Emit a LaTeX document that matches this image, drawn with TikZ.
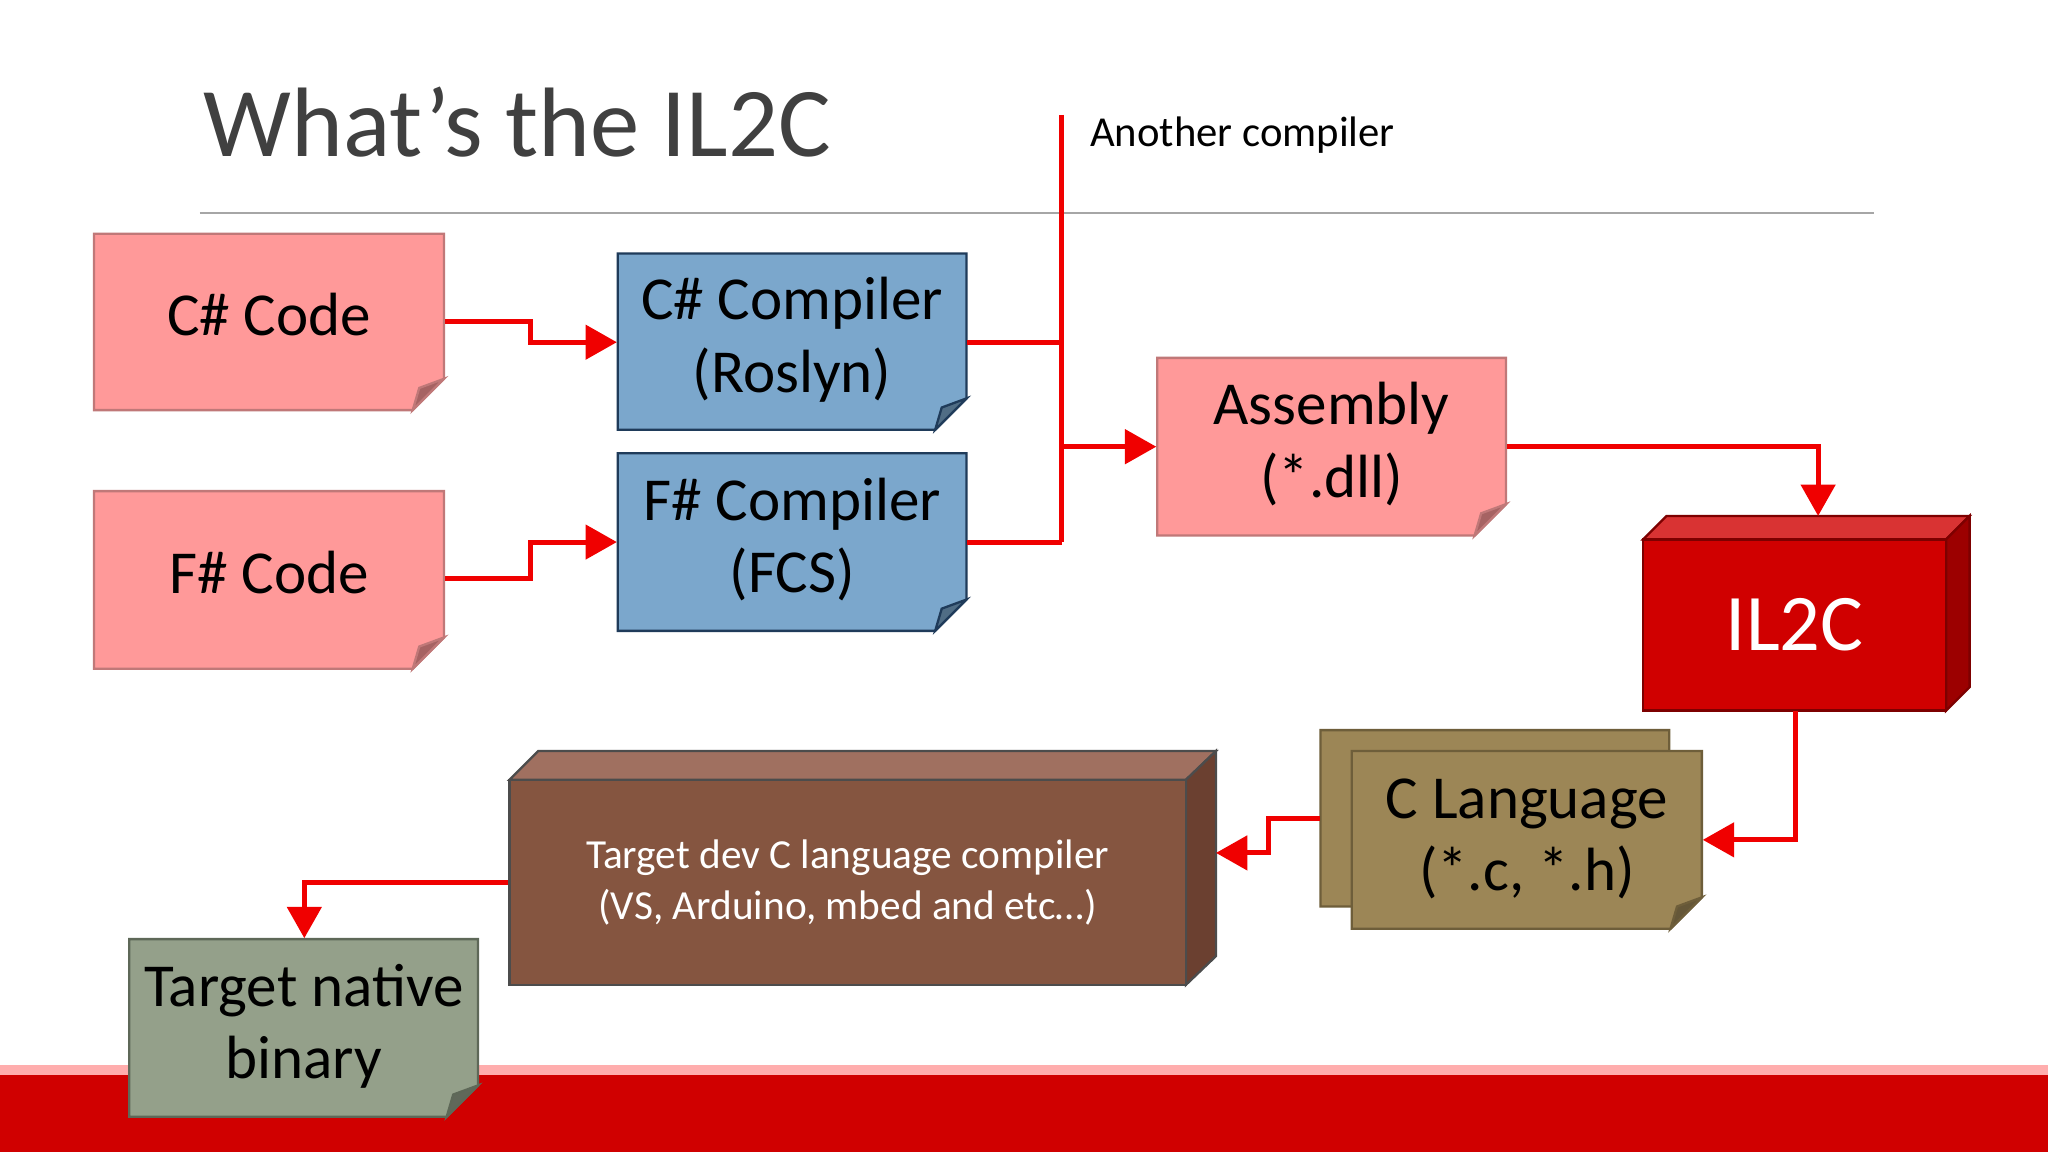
\documentclass[tikz,border=0pt]{standalone}
\usepackage{fontspec}
\setmainfont{Carlito}
\usetikzlibrary{arrows.meta}
\definecolor{redc}{HTML}{D00000}
\definecolor{linec}{HTML}{F00000}
\definecolor{pinkf}{HTML}{FF9999}
\definecolor{pinkb}{HTML}{C07878}
\definecolor{bluef}{HTML}{7BA7CC}
\definecolor{blueb}{HTML}{1F3B5A}
\definecolor{tanf}{HTML}{9C8656}
\definecolor{tanb}{HTML}{6E5E3A}
\definecolor{greenf}{HTML}{94A08A}
\definecolor{greenb}{HTML}{5E6858}
\tikzset{
 notetext/.style={inner sep=0pt, align=center, font=\fontsize{13.3}{15.8}\selectfont, text=black},
 conn/.style={draw=linec, line width=0.38mm},
 arr/.style={conn, -{Triangle[length=2.4mm,width=2.6mm]}}
}
\newcommand\notebox[8]{%
 \filldraw[fill=#6, draw=#7, line width=0.5pt] (#2,#3) -- (#4,#3) -- (#4,#5-24) -- (#4-24,#5) -- (#2,#5) -- cycle;
 \filldraw[fill=#6!65!black, draw=#7, line width=0.5pt] (#4,#5-24) -- (#4-19,#5-17) -- (#4-24,#5) -- cycle;
 \node[notetext, minimum width={(#4-#2)*0.1mm}, minimum height={(#5-#3)*0.1mm}] (#1) at ({(#2+#4)/2},{(#3+#5)/2}) {\raisebox{1.6mm}{\begin{tabular}{@{}c@{}}#8\end{tabular}}};}
\begin{document}
\begin{tikzpicture}[x=0.1mm,y=-0.1mm]
\useasboundingbox (0,0) rectangle (1568,882);
\fill[white] (0,0) rectangle (1568,882);
% bottom band
\fill[redc] (0,815) rectangle (1568,882);
\fill[pinkf!80!white] (0,815) rectangle (1568,823);
% title
\node[anchor=base west, inner sep=0pt, text=black!75, font=\fontsize{21.5}{24}\selectfont] (title) at (155,120) {What’s the IL2C};
\draw[black!35, line width=0.4pt] (153,163) -- (1435,163);
% notes
\notebox{cs}{72}{179}{340}{314}{pinkf}{pinkb}{C\# Code}
\notebox{fs}{72}{376}{340}{512}{pinkf}{pinkb}{F\# Code}
\notebox{csc}{473}{194}{740}{329}{bluef}{blueb}{C\# Compiler\\(Roslyn)}
\notebox{fsc}{473}{347}{740}{483}{bluef}{blueb}{F\# Compiler\\(FCS)}
\notebox{asm}{886}{274}{1153}{410}{pinkf}{pinkb}{Assembly\\(*.dll)}
\notebox{cl0}{1011}{559}{1278}{694}{tanf}{tanb}{}
\notebox{cl}{1035}{575}{1303}{711}{tanf}{tanb}{C Language\\(*.c, *.h)}
\notebox{bin}{99}{719}{366}{855}{greenf}{greenb}{Target native\\binary}
% IL2C 3D box
\filldraw[fill=redc!80!white, draw=redc!60!black, line width=0.5pt] (1258,413) -- (1276,395) -- (1508,395) -- (1490,413) -- cycle;
\filldraw[fill=redc!75!black, draw=redc!60!black, line width=0.5pt] (1490,413) -- (1508,395) -- (1508,526) -- (1490,544) -- cycle;
\node[fill=redc, draw=redc!60!black, line width=0.5pt, minimum width=23.2mm, minimum height=13.1mm, inner sep=0pt, text=white, font=\fontsize{17.5}{20}\selectfont] (il2c) at (1374,478.5) {IL2C};
% Target dev 3D box
\filldraw[draw=black!70, line width=0.5pt, fill={rgb,255:red,160;green,112;blue,96}] (390,597) -- (412,575) -- (931,575) -- (908,597) -- cycle;
\filldraw[fill={rgb,255:red,107;green,64;blue,48}, draw=black!70, line width=0.5pt] (908,597) -- (931,575) -- (931,732) -- (908,754) -- cycle;
\node[fill={rgb,255:red,133;green,85;blue,64}, draw=black!70, line width=0.5pt, minimum width=51.8mm, minimum height=15.7mm, inner sep=0pt, text=white, align=center, font=\fontsize{9}{11}\selectfont] (tdc) at (649,675.5) {Target dev C language compiler\\(VS, Arduino, mbed and etc…)};
% another compiler
\coordinate (vt) at (813,88);
\coordinate (vb) at (813,415);
\coordinate (vm) at (813,342);
\node[anchor=base west, inner sep=0pt, font=\fontsize{9.3}{11}\selectfont] (ac) at (834,112) {Another compiler};
% connectors
\draw[conn] (vt) -- (vb);
\draw[arr] (cs.east |- 0,246) -- (406,246) -- (406,262) -- (csc.west |- 0,262);
\draw[arr] (fs.east |- 0,443) -- (406,443) -- (406,415) -- (fsc.west |- 0,415);
\draw[conn] (csc.east |- 0,262) -- (813,262);
\draw[conn] (fsc.east |- 0,415) -- (vb);
\draw[arr] (vm) -- (asm.west |- vm);
\draw[arr] (asm.east |- 0,342) -- (1392,342) -- (1392,395);
\draw[arr] (1375,544) -- (1375,643) -- (cl.east |- 0,643);
\draw[arr] (cl0.west |- 0,627) -- (971,627) -- (971,653) -- (931,653);
\draw[arr] (tdc.west |- 0,676) -- (233,676) -- (bin.north -| 233,0);
\end{tikzpicture}
\end{document}
